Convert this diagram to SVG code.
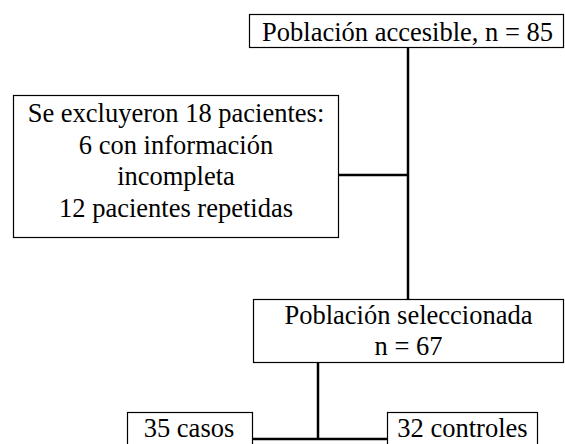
<svg xmlns="http://www.w3.org/2000/svg" width="565" height="444" viewBox="0 0 565 444">
<style>
.box{fill:#fff;stroke:#000;stroke-width:1.2}
.c{stroke:#000;stroke-width:2.5;fill:none}
.t{font-family:'Liberation Serif','Times New Roman',serif;font-size:26.5px;fill:#000;text-anchor:middle}
</style>
<rect width="565" height="444" fill="#fff"/>
<g id="connectors">
<line class="c" x1="408" y1="47" x2="408" y2="299"/>
<line class="c" x1="338" y1="175" x2="408" y2="175"/>
<line class="c" x1="318" y1="363" x2="318" y2="439"/>
<line class="c" x1="252" y1="439" x2="387" y2="439"/>
</g>
<g id="poblacion-accesible">
<rect class="box" x="249.5" y="14.5" width="314" height="33"/>
<text class="t" x="407.5" y="41">Población accesible, n = 85</text>
</g>
<g id="excluidos">
<rect class="box" x="13.5" y="95.5" width="325" height="142"/>
<text class="t" x="176" y="122">Se excluyeron 18 pacientes:</text>
<text class="t" x="176" y="153.5">6 con información</text>
<text class="t" x="176" y="185">incompleta</text>
<text class="t" x="176" y="216.5">12 pacientes repetidas</text>
</g>
<g id="poblacion-seleccionada">
<rect class="box" x="253.5" y="299.5" width="310" height="63"/>
<text class="t" x="408.5" y="323.5">Población seleccionada</text>
<text class="t" x="408.5" y="355">n = 67</text>
</g>
<g id="casos">
<rect class="box" x="127.5" y="412.5" width="125" height="40"/>
<text class="t" x="189" y="437">35 casos</text>
</g>
<g id="controles">
<rect class="box" x="387.5" y="412.5" width="150" height="40"/>
<text class="t" x="462.5" y="437">32 controles</text>
</g>
</svg>
